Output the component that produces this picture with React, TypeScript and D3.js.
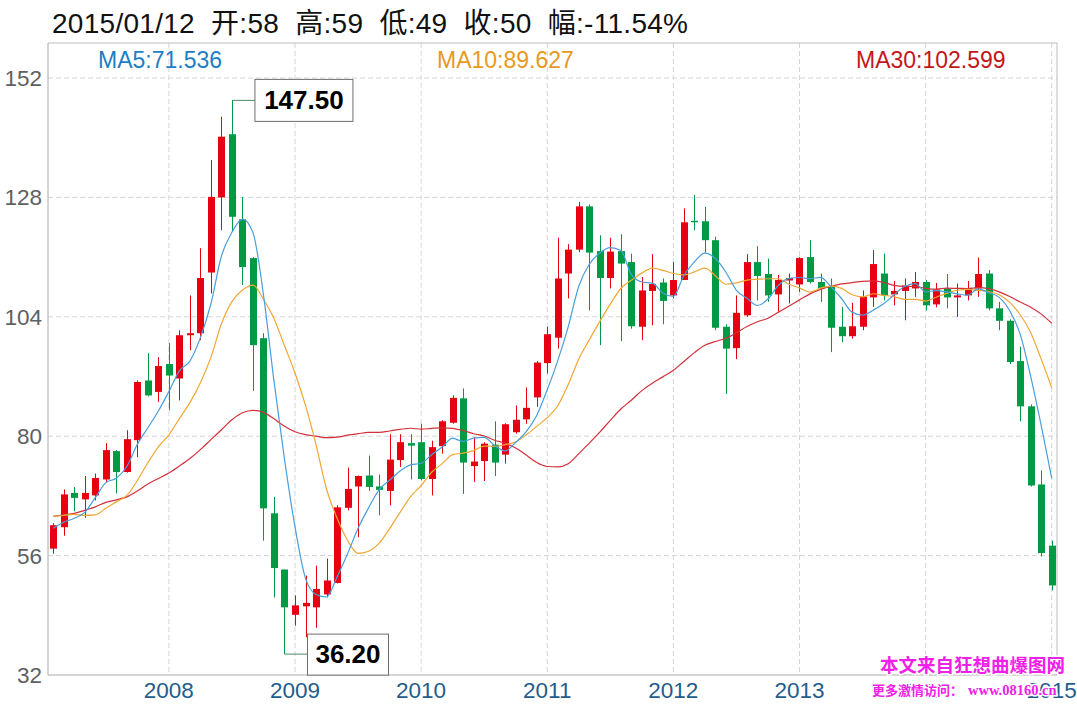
import React from 'react';
import * as d3 from 'd3';

// Monthly candles, 2007/02 .. 2015/01
const months: Date[] = d3.timeMonth.range(new Date(2007, 1, 1), new Date(2015, 1, 1));

const opens = [
  57.4, 61.7, 68.6, 67.3, 68.1, 71.3, 77.0, 72.8, 79.2, 91.2, 88.9, 94.5, 91.6, 100.3, 100.7, 112.9,
  128.0, 140.7, 123.6, 115.8, 99.7, 64.5, 53.2, 44.1, 45.8, 45.6, 48.2, 50.5, 65.6, 69.9, 72.1, 69.9,
  69.0, 75.2, 78.6, 78.8, 71.4, 78.0, 82.7, 87.6, 74.0, 75.0, 78.3, 76.3, 80.8, 83.4, 87.8, 94.7,
  99.8, 112.7, 117.5, 126.2, 117.2, 111.8, 117.2, 115.0, 102.0, 109.2, 110.9, 108.3, 111.4, 123.3, 123.2, 119.4,
  102.0, 97.7, 104.3, 115.0, 112.6, 108.5, 111.3, 110.5, 116.0, 111.0, 110.1, 102.0, 100.1, 102.0, 107.9, 112.7,
  108.5, 109.2, 109.7, 111.0, 106.5, 109.7, 107.9, 108.3, 109.7, 112.7, 105.7, 103.2, 95.1, 86.0, 70.3, 58.0,
];
const highs = [
  62.5, 69.3, 69.8, 72.0, 72.5, 78.6, 77.2, 81.2, 91.2, 96.7, 95.9, 98.7, 101.3, 108.3, 117.8, 135.5,
  144.2, 147.5, 128.1, 116.0, 100.7, 67.8, 53.2, 48.0, 52.0, 54.0, 55.4, 66.1, 73.7, 72.1, 76.1, 72.3,
  80.4, 80.4, 80.4, 82.5, 79.1, 83.2, 88.2, 89.6, 79.8, 78.8, 83.0, 82.6, 86.2, 89.8, 95.1, 102.0,
  119.9, 118.6, 127.1, 126.6, 120.4, 119.9, 120.6, 116.7, 112.0, 116.6, 111.7, 115.0, 125.8, 128.5, 126.1, 120.1,
  102.5, 108.3, 116.6, 118.2, 115.7, 112.4, 112.7, 116.0, 119.4, 112.7, 111.7, 106.0, 106.8, 109.3, 117.4, 116.7,
  111.2, 111.7, 113.0, 111.4, 110.8, 112.6, 110.7, 111.2, 115.9, 113.4, 107.0, 103.5, 98.0, 86.4, 73.1, 59.0,
];
const lows = [
  56.4, 60.0, 64.9, 63.6, 67.1, 70.7, 68.5, 72.7, 75.8, 88.0, 86.9, 85.2, 87.2, 97.3, 99.3, 108.7,
  121.4, 121.1, 110.4, 89.1, 59.0, 47.6, 36.2, 41.9, 39.6, 41.5, 47.6, 50.4, 65.1, 59.7, 69.0, 64.1,
  66.1, 73.8, 71.3, 71.1, 68.1, 76.5, 82.5, 68.4, 70.8, 71.0, 72.0, 74.5, 80.5, 82.5, 85.9, 92.6,
  97.6, 107.7, 117.0, 105.3, 98.3, 109.7, 99.1, 101.6, 99.3, 102.3, 102.5, 107.7, 111.4, 121.4, 116.9, 101.3,
  88.5, 95.5, 104.0, 107.3, 107.0, 105.0, 106.7, 109.0, 110.7, 107.0, 96.9, 98.9, 99.6, 101.3, 106.0, 107.3,
  106.3, 103.3, 108.0, 105.3, 105.9, 105.7, 104.0, 107.3, 108.0, 105.3, 101.3, 94.5, 83.0, 69.9, 55.8, 49.0,
];
const closes = [
  62.1, 68.3, 67.6, 68.6, 71.6, 77.2, 72.8, 79.4, 90.9, 88.2, 94.1, 92.2, 100.3, 100.7, 111.8, 128.1,
  140.2, 124.1, 114.0, 98.3, 65.5, 53.5, 45.6, 46.0, 46.5, 49.3, 51.0, 65.7, 69.4, 72.0, 69.8, 69.2,
  75.3, 78.8, 78.1, 71.4, 77.8, 83.0, 87.7, 74.7, 74.9, 78.5, 74.7, 82.4, 83.3, 85.7, 94.8, 100.5,
  111.7, 117.5, 126.2, 116.9, 111.8, 117.1, 114.7, 102.1, 109.3, 110.6, 107.2, 111.4, 123.0, 123.0, 119.4, 101.8,
  97.6, 104.8, 115.0, 112.2, 108.3, 111.4, 111.8, 115.8, 111.0, 109.7, 101.8, 100.1, 102.1, 108.0, 114.6, 108.3,
  109.2, 110.3, 111.0, 106.3, 109.5, 107.9, 108.3, 109.7, 112.6, 105.7, 103.2, 94.9, 86.0, 70.1, 56.5, 50.0,
];

// Moving-average values at the left edge (their windows reach back before the first visible month)
const ma5Head = [61.5, 62.7, 63.5, 64.7];
const ma10Head = [63.9, 64.1, 64.3, 64.1, 64.2, 65.5, 66.8, 68.1, 71.1];
const ma30Head = [
  63.9, 64.2, 64.5, 65.1, 65.8, 66.7, 67.2, 67.8, 69.0, 70.4, 71.5, 72.6, 74.0, 75.5, 77.3, 79.3,
  81.3, 83.3, 84.7, 85.2, 84.8, 83.5, 82.0, 80.9, 80.3, 80.0, 79.7, 79.8, 80.2,
];

const yTicks = [32, 56, 80, 104, 128, 152];
const yearTicks = ['2008', '2009', '2010', '2011', '2012', '2013', '2014', '2015'];
const maLabels = ['MA5:71.536', 'MA10:89.627', 'MA30:102.599'];
const titleText = '2015/01/12  开:58  高:59  低:49  收:50  幅:-11.54%';
const highIndex = 17;
const highLabel = '147.50';
const lowIndex = 22;
const lowLabel = '36.20';
const watermark1 = '本文来自狂想曲爆图网';
const watermark2a = '更多激情访问：';
const watermark2b = 'www.08160.cn';

function movingAverage(n: number, head: number[]): number[] {
  return closes.map((_, i) => (i < n - 1 ? head[i] : d3.mean(closes.slice(i - n + 1, i + 1)) as number));
}

const W = 1077;
const H = 707;
const left = 48;
const right = 1057;
const top = 43;
const bottom = 675;

const RED = '#e60012';
const GREEN = '#009a44';

export default function App() {
  const x = d3.scaleBand<number>().domain(months.map((_, i) => i)).range([left, right]);
  const cx = (i: number) => (x(i) as number) + x.bandwidth() / 2;
  const y = d3.scaleLinear().domain([32, 152]).range([675, 78]);
  const bodyW = 7;

  const ma5 = movingAverage(5, ma5Head);
  const ma10 = movingAverage(10, ma10Head);
  const ma30 = movingAverage(30, ma30Head);
  const line = d3
    .line<number>()
    .x((_, i) => cx(i))
    .y((d) => y(d))
    .curve(d3.curveMonotoneX);

  const yearIdx = yearTicks.map((yr) => months.findIndex((m) => m.getFullYear() === +yr && m.getMonth() === 0));

  const hx = cx(highIndex);
  const hy = y(highs[highIndex]);
  const lx = cx(lowIndex);
  const ly = y(lows[lowIndex]);

  const font = '"Liberation Sans", Arial, "Noto Sans CJK SC", sans-serif';

  return (
    <svg width={W} height={H} style={{ position: 'absolute', left: 0, top: 0, background: '#fff' }} fontFamily={font}>
      <rect x={0} y={0} width={W} height={H} fill="#fff" />
      {/* grid */}
      {yTicks.slice(1).map((t) => (
        <line key={'gy' + t} x1={left} x2={right} y1={y(t)} y2={y(t)} stroke="#d6d6d6" strokeDasharray="5,3" />
      ))}
      {yearIdx.map((i, k) => (
        <line key={'gx' + k} x1={cx(i)} x2={cx(i)} y1={top} y2={bottom} stroke="#d6d6d6" strokeDasharray="5,3" />
      ))}
      {/* frame */}
      <line x1={left} x2={right} y1={top} y2={top} stroke="#bdbdbd" />
      <line x1={right} x2={right} y1={top} y2={bottom} stroke="#bdbdbd" />
      <line x1={left} x2={left} y1={top} y2={bottom} stroke="#aaaaaa" />
      <line x1={left} x2={right} y1={bottom} y2={bottom} stroke="#aaaaaa" />

      {/* y labels */}
      {yTicks.map((t) => (
        <text key={'yl' + t} x={42} y={y(t) + 8} textAnchor="end" fontSize={22.5} fill="#606060">
          {t}
        </text>
      ))}
      {/* x labels */}
      {yearIdx.map((i, k) => (
        <text key={'xl' + k} x={cx(i)} y={698} textAnchor="middle" fontSize={22.5} fill="#1f5d8c">
          {yearTicks[k]}
        </text>
      ))}

      {/* candles */}
      {closes.map((c, i) => {
        const o = opens[i];
        const up = c >= o;
        const col = up ? RED : GREEN;
        const xc = Math.round(cx(i)) + 0.5;
        const yTop = y(Math.max(o, c));
        const yBot = y(Math.min(o, c));
        return (
          <g key={'c' + i}>
            <line x1={xc} x2={xc} y1={y(highs[i])} y2={y(lows[i])} stroke={col} strokeWidth={1} />
            <rect x={xc - bodyW / 2} y={yTop} width={bodyW} height={Math.max(1.5, yBot - yTop)} fill={col} />
          </g>
        );
      })}

      {/* moving averages */}
      <path d={line(ma30) || ''} fill="none" stroke="#d2313a" strokeWidth={1.2} />
      <path d={line(ma10) || ''} fill="none" stroke="#f0a734" strokeWidth={1.2} />
      <path d={line(ma5) || ''} fill="none" stroke="#4a9edb" strokeWidth={1.2} />

      {/* MA labels */}
      <text x={98} y={68} fontSize={23} fill="#1c7ec6">{maLabels[0]}</text>
      <text x={437} y={68} fontSize={23} fill="#e8991e">{maLabels[1]}</text>
      <text x={856} y={68} fontSize={23} fill="#c3161c">{maLabels[2]}</text>

      {/* title */}
      <text x={52} y={33} fontSize={28} fill="#111" style={{ whiteSpace: 'pre' }} textLength={636} lengthAdjust="spacing">
        {titleText}
      </text>

      {/* high annotation */}
      <polyline points={`${hx},${hy} ${hx + 23},${hy}`} fill="none" stroke="#4f8a63" strokeWidth={1} />
      <rect x={hx + 23} y={hy - 21} width={98} height={42} fill="#fff" stroke="#6e6e6e" />
      <text x={hx + 23 + 49} y={hy + 9} textAnchor="middle" fontSize={26} fontWeight="bold" fill="#000">
        {highLabel}
      </text>
      {/* low annotation */}
      <polyline points={`${lx},${ly} ${lx + 23},${ly}`} fill="none" stroke="#4f8a63" strokeWidth={1} />
      <rect x={lx + 23} y={ly - 20} width={81} height={41} fill="#fff" stroke="#6e6e6e" />
      <text x={lx + 23 + 40.5} y={ly + 9} textAnchor="middle" fontSize={26} fontWeight="bold" fill="#000">
        {lowLabel}
      </text>

      {/* watermark */}
      <g fill="#f020e8" stroke="#fff" strokeWidth={3} paintOrder="stroke" fontWeight="bold">
        <text x={880} y={672} fontSize={18.5} fontFamily='"Noto Sans CJK SC", sans-serif'>{watermark1}</text>
        <text x={872} y={695} fontSize={13} fontFamily='"Noto Sans CJK SC", sans-serif'>{watermark2a}</text>
        <text x={968} y={695} fontSize={14.5} fontFamily='"Liberation Serif", serif'>{watermark2b}</text>
      </g>
    </svg>
  );
}
